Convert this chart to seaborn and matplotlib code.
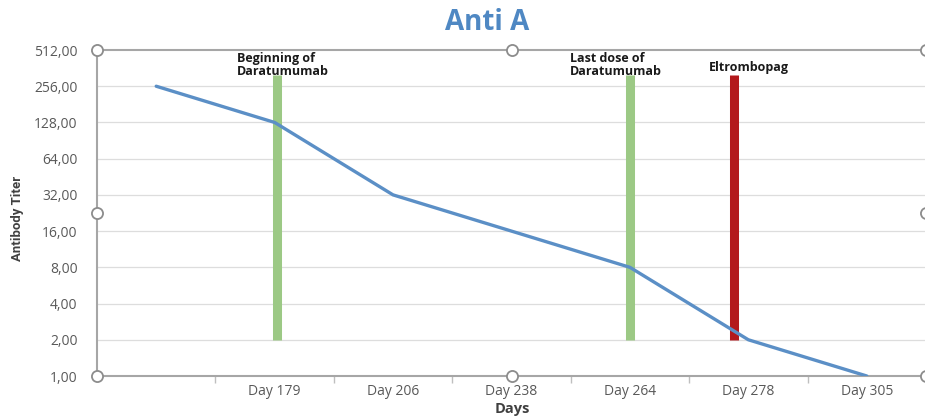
import matplotlib
matplotlib.use("Agg")
import matplotlib.pyplot as plt
import seaborn as sns
import numpy as np
import pandas as pd

# ---- data ----
categories = ["", "Day 179", "Day 206", "Day 238", "Day 264", "Day 278", "Day 305"]
titers = [256, 128, 32, 16, 8, 2, 1]
y_ticks = [1, 2, 4, 8, 16, 32, 64, 128, 256, 512]
event_labels = ["Beginning of\nDaratumumab", "Last dose of\nDaratumumab", "Eltrombopag"]
event_positions = [1.02, 4.0, 4.875]   # in category units
event_colors = ["#9cc985", "#9cc985", "#b3191c"]
event_low, event_high = 2, 318

sns.set_theme(style="white")
plt.rcParams['font.family'] = ['Open Sans', 'DejaVu Sans']

fig = plt.figure(figsize=(9.25, 4.2), dpi=100)
ax = fig.add_axes([97/925, 1-376/420, 829/925, 326/420])

df = pd.DataFrame({"idx": np.arange(len(categories)), "titer": titers})

# grid lines
for t in y_ticks[1:-1]:
    ax.axhline(t, color="#dddddd", lw=0.9, zorder=0)

# event markers
for pos, col in zip(event_positions, event_colors):
    ax.vlines(pos, event_low, event_high, color=col, lw=6.5, zorder=2)

sns.lineplot(data=df, x="idx", y="titer", ax=ax, color="#5b8fc6", lw=2.4, zorder=3)

ax.set_yscale("log", base=2)
ax.set_ylim(1, 512)
ax.set_xlim(-0.5, len(categories) - 0.5)
ax.set_yticks(y_ticks)
ax.set_yticklabels([f"{v:.2f}".replace(".", ",") for v in y_ticks])
ax.yaxis.set_minor_locator(matplotlib.ticker.NullLocator())
ax.set_xticks(np.arange(len(categories)))
ax.set_xticklabels(categories)
ax.set_xticks(np.arange(len(categories) - 1) + 0.5, minor=True)
ax.tick_params(axis="x", which="major", length=0, pad=6, labelsize=10, labelcolor="#595959")
ax.tick_params(axis="x", which="minor", length=5, color="#bfbfbf", width=1, direction="out", bottom=True)
ax.tick_params(axis="y", which="major", length=0, pad=14, labelsize=10, labelcolor="#595959")

ax.spines["right"].set_visible(False)
for s in ["left", "bottom", "top"]:
    ax.spines[s].set_color("#a6a6a6")
    ax.spines[s].set_linewidth(1.5)

ax.set_xlabel("")
ax.set_ylabel("")
fig.text(512/925, 1-409/420, "Days", ha="center", va="center",
         fontsize=10.5, fontweight="bold", color="#404040")
fig.text(18/925, 1-218/420, "Antibody Titer", rotation=90, ha="center", va="center",
         fontsize=9.5, fontweight="bold", color="#404040", family=["Roboto", "DejaVu Sans"])

fig.text(487/925, 1-22/420, "Anti A", ha="center", va="center", fontsize=20,
         fontweight="bold", color="#4f88c3")

# event labels
label_x = [237, 570, 709]
label_y = [52, 52, 61]
for lab, lx, ly in zip(event_labels, label_x, label_y):
    fig.text(lx/925, 1-ly/420, lab, ha="left", va="top", fontsize=9,
             fontweight="bold", color="#1a1a1a", linespacing=1.0)

# selection handles (screenshot artefacts)
handles = [(0, 1), (0.5, 1), (0, 0.5), (1, 0.5), (0, 0), (0.5, 0), (1, 1), (1, 0)]
for hx, hy in handles:
    ax.plot(hx, hy, marker="o", ms=8, mfc="white", mec="#8c8c8c", mew=1.3,
            transform=ax.transAxes, clip_on=False, zorder=10)

fig.savefig("out.png", dpi=100)
